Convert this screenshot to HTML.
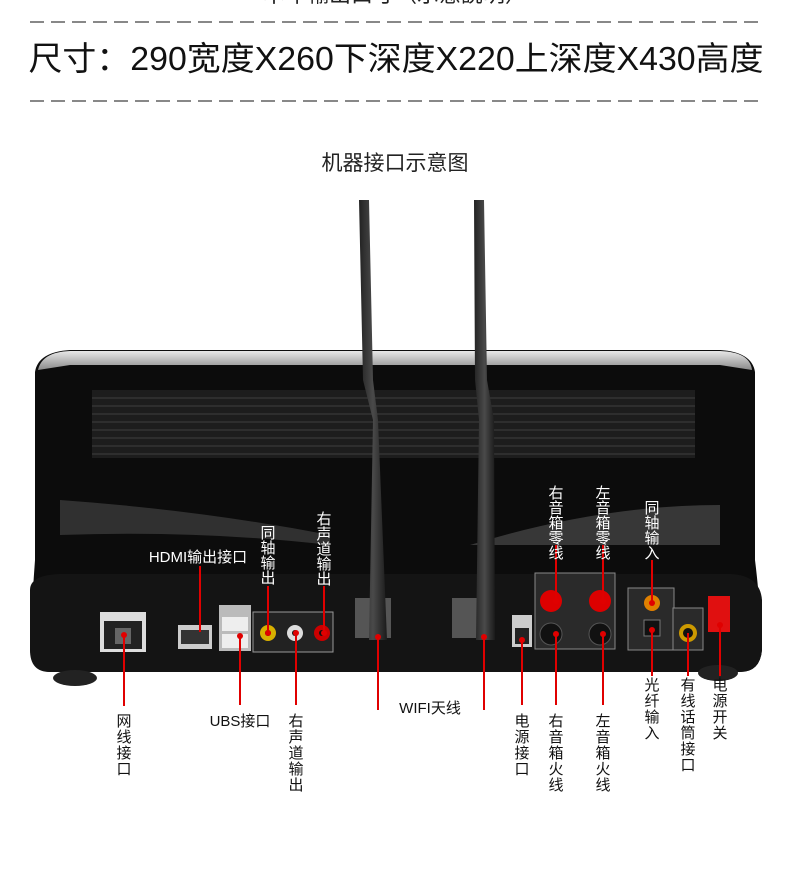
<!DOCTYPE html>
<html><head><meta charset="utf-8"><style>
body{margin:0;background:#fff;width:790px;height:880px;overflow:hidden}
svg{display:block}
.t{font-family:"Liberation Sans","Noto Sans CJK SC",sans-serif}
</style></head><body>
<svg width="790" height="880" viewBox="0 0 790 880" xmlns="http://www.w3.org/2000/svg">
<defs>
<linearGradient id="silver" x1="0" y1="0" x2="0" y2="1"><stop offset="0" stop-color="#e8e8e8"/><stop offset="1" stop-color="#8a8a8a"/></linearGradient>
<linearGradient id="ant" x1="0" y1="0" x2="1" y2="0"><stop offset="0" stop-color="#222"/><stop offset=".5" stop-color="#4a4a4a"/><stop offset="1" stop-color="#1a1a1a"/></linearGradient>
</defs>
<text class="t" x="395" y="2" font-size="22" text-anchor="middle" fill="#222">本年輸出口寸（示意說明）</text>
<line x1="30" y1="22" x2="760" y2="22" stroke="#888" stroke-width="2" stroke-dasharray="14,7"/>
<text class="t" x="396" y="70" font-size="33" text-anchor="middle" fill="#111" textLength="735" lengthAdjust="spacingAndGlyphs">尺寸：290宽度X260下深度X220上深度X430高度</text>
<line x1="30" y1="101" x2="760" y2="101" stroke="#888" stroke-width="2" stroke-dasharray="14,7"/>
<text class="t" x="395" y="170" font-size="21" text-anchor="middle" fill="#222">机器接口示意图</text>

<path d="M35 372 Q38 352 70 350 L720 350 Q752 352 755 372 L755 560 Q760 600 762 650 Q760 672 740 672 L50 672 Q32 672 30 650 Q32 600 35 560 Z" fill="#0c0c0c"/>
<path d="M38 370 Q42 352 70 351 L720 351 Q750 352 752 370 L720 365 L70 365 Z" fill="url(#silver)"/>
<rect x="92" y="390" width="603" height="68" fill="#1d1d1d"/>
<g stroke="#3a3a3a" stroke-width="1.2">
<line x1="92" y1="398" x2="695" y2="398"/><line x1="92" y1="406" x2="695" y2="406"/><line x1="92" y1="414" x2="695" y2="414"/><line x1="92" y1="422" x2="695" y2="422"/><line x1="92" y1="430" x2="695" y2="430"/><line x1="92" y1="438" x2="695" y2="438"/><line x1="92" y1="446" x2="695" y2="446"/><line x1="92" y1="454" x2="695" y2="454"/>
</g>
<path d="M60 500 Q200 510 330 535 L330 545 Q200 530 60 535 Z" fill="#3a3a3a" opacity=".8"/>
<path d="M470 545 Q600 505 720 505 L720 545 Z" fill="#555" opacity=".6"/>
<path d="M30 590 Q30 575 60 574 L730 574 Q760 575 762 600 L762 650 Q760 672 740 672 L50 672 Q30 672 30 650 Z" fill="#141414"/>
<ellipse cx="75" cy="678" rx="22" ry="8" fill="#222"/><ellipse cx="718" cy="673" rx="20" ry="8" fill="#222"/>
<rect x="100" y="612" width="46" height="40" fill="#ddd"/><rect x="104" y="621" width="38" height="28" fill="#222"/><rect x="115" y="628" width="16" height="16" fill="#666"/>
<rect x="178" y="625" width="34" height="24" fill="#ccc"/><rect x="181" y="630" width="28" height="14" fill="#333"/>
<rect x="219" y="605" width="32" height="46" fill="#bbb"/><rect x="222" y="617" width="26" height="14" fill="#eee"/><rect x="222" y="634" width="26" height="14" fill="#eee"/>
<rect x="253" y="612" width="80" height="40" fill="#222" stroke="#999"/>
<circle cx="268" cy="633" r="8" fill="#d8b000"/><circle cx="268" cy="633" r="3" fill="#111"/>
<circle cx="295" cy="633" r="8" fill="#ddd"/><circle cx="295" cy="633" r="3" fill="#111"/>
<circle cx="322" cy="633" r="8" fill="#c00"/><circle cx="322" cy="633" r="3" fill="#111"/>
<rect x="355" y="598" width="36" height="40" fill="#555"/><rect x="452" y="598" width="40" height="40" fill="#555"/>
<rect x="512" y="615" width="20" height="32" fill="#ccc"/><rect x="515" y="628" width="14" height="16" fill="#222"/>
<rect x="535" y="573" width="80" height="76" fill="#2a2a2a" stroke="#888"/>
<circle cx="551" cy="601" r="11" fill="#d00"/><circle cx="600" cy="601" r="11" fill="#d00"/>
<circle cx="551" cy="634" r="11" fill="#111" stroke="#555"/><circle cx="600" cy="634" r="11" fill="#111" stroke="#555"/>
<rect x="628" y="588" width="46" height="62" fill="#2a2a2a" stroke="#888"/>
<circle cx="652" cy="603" r="8" fill="#e08000"/><rect x="644" y="620" width="16" height="16" fill="#111" stroke="#777"/>
<rect x="673" y="608" width="30" height="42" fill="#2a2a2a" stroke="#888"/><circle cx="688" cy="633" r="9" fill="#c90"/><circle cx="688" cy="633" r="5" fill="#111"/>
<rect x="708" y="596" width="22" height="36" fill="#e01010"/>
<path d="M359 200 L369 200 L373 380 L378 420 L387 640 L369 640 L373 420 L363 380 Z" fill="url(#ant)"/>
<path d="M474 200 L484 200 L487 380 L494 420 L495 640 L476 640 L479 420 L475 380 Z" fill="url(#ant)"/>
<g stroke="#e00000" stroke-width="2">
<line x1="124" y1="635" x2="124" y2="706"/><line x1="240" y1="636" x2="240" y2="705"/><line x1="296" y1="633" x2="296" y2="705"/>
<line x1="378" y1="635" x2="378" y2="710"/><line x1="484" y1="635" x2="484" y2="710"/>
<line x1="522" y1="640" x2="522" y2="705"/><line x1="556" y1="634" x2="556" y2="705"/><line x1="603" y1="634" x2="603" y2="705"/>
<line x1="652" y1="630" x2="652" y2="676"/><line x1="688" y1="633" x2="688" y2="676"/><line x1="720" y1="625" x2="720" y2="676"/>
<line x1="200" y1="566" x2="200" y2="632"/><line x1="268" y1="586" x2="268" y2="633"/><line x1="324" y1="586" x2="324" y2="633"/>
<line x1="556" y1="545" x2="556" y2="601"/><line x1="603" y1="545" x2="603" y2="601"/><line x1="652" y1="560" x2="652" y2="603"/>
</g>
<g fill="#e00000"><circle cx="124" cy="635" r="3"/><circle cx="240" cy="636" r="3"/><circle cx="296" cy="633" r="3"/><circle cx="378" cy="637" r="3"/><circle cx="484" cy="637" r="3"/><circle cx="522" cy="640" r="3"/><circle cx="556" cy="634" r="3"/><circle cx="603" cy="634" r="3"/><circle cx="652" cy="630" r="3"/><circle cx="720" cy="625" r="3"/><circle cx="268" cy="633" r="3"/><circle cx="324" cy="633" r="3"/><circle cx="556" cy="601" r="3"/><circle cx="603" cy="601" r="3"/><circle cx="652" cy="603" r="3"/></g>
<g class="t" font-size="15" fill="#fff" text-anchor="middle">
<text x="198" y="562">HDMI输出接口</text>
<text x="268" y="538">同</text><text x="268" y="553">轴</text><text x="268" y="568">输</text><text x="268" y="583">出</text>
<text x="324" y="524">右</text><text x="324" y="539">声</text><text x="324" y="554">道</text><text x="324" y="569">输</text><text x="324" y="584">出</text>
<text x="556" y="498">右</text><text x="556" y="513">音</text><text x="556" y="528">箱</text><text x="556" y="543">零</text><text x="556" y="558">线</text>
<text x="603" y="498">左</text><text x="603" y="513">音</text><text x="603" y="528">箱</text><text x="603" y="543">零</text><text x="603" y="558">线</text>
<text x="652" y="513">同</text><text x="652" y="528">轴</text><text x="652" y="543">输</text><text x="652" y="558">入</text>
</g>
<g class="t" font-size="15" fill="#111" text-anchor="middle">
<text x="124" y="726">网</text><text x="124" y="742">线</text><text x="124" y="758">接</text><text x="124" y="774">口</text>
<text x="240" y="726">UBS接口</text>
<text x="296" y="726">右</text><text x="296" y="742">声</text><text x="296" y="758">道</text><text x="296" y="774">输</text><text x="296" y="790">出</text>
<text x="430" y="713">WIFI天线</text>
<text x="522" y="726">电</text><text x="522" y="742">源</text><text x="522" y="758">接</text><text x="522" y="774">口</text>
<text x="556" y="726">右</text><text x="556" y="742">音</text><text x="556" y="758">箱</text><text x="556" y="774">火</text><text x="556" y="790">线</text>
<text x="603" y="726">左</text><text x="603" y="742">音</text><text x="603" y="758">箱</text><text x="603" y="774">火</text><text x="603" y="790">线</text>
<text x="652" y="690">光</text><text x="652" y="706">纤</text><text x="652" y="722">输</text><text x="652" y="738">入</text>
<text x="688" y="690">有</text><text x="688" y="706">线</text><text x="688" y="722">话</text><text x="688" y="738">筒</text><text x="688" y="754">接</text><text x="688" y="770">口</text>
<text x="720" y="690">电</text><text x="720" y="706">源</text><text x="720" y="722">开</text><text x="720" y="738">关</text>
</g>
</svg>
</body></html>
